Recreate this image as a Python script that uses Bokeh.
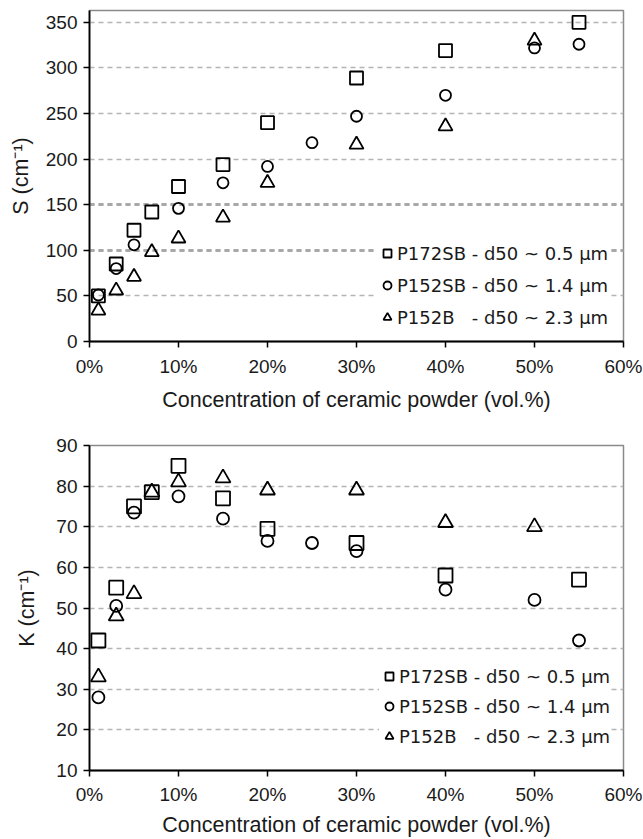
from bokeh.plotting import figure
from bokeh.layouts import column
from bokeh.models import (ColumnDataSource, Legend, LegendItem, SingleIntervalTicker,
                          PrintfTickFormatter, Grid, FixedTicker, Range1d)
from bokeh.embed import file_html
from bokeh.resources import INLINE

# ---------------- data ----------------
series_names = ["P172SB - d50 ~ 0.5 µm", "P152SB - d50 ~ 1.4 µm", "P152B   - d50 ~ 2.3 µm"]

s_x_p172sb = [1, 3, 5, 7, 10, 15, 20, 30, 40, 55]
s_y_p172sb = [50, 85, 122, 142, 170, 194, 240, 289, 319, 350]
s_x_p152sb = [1, 3, 5, 10, 15, 20, 25, 30, 40, 50, 55]
s_y_p152sb = [51, 80, 106, 146, 174, 192, 218, 247, 270, 322, 326]
s_x_p152b = [1, 3, 5, 7, 10, 15, 20, 30, 40, 50]
s_y_p152b = [34, 56, 71, 98, 113, 136, 174, 216, 236, 330]

k_x_p172sb = [1, 3, 5, 7, 10, 15, 20, 30, 40, 55]
k_y_p172sb = [42, 55, 75, 78.5, 85, 77, 69.5, 66, 58, 57]
k_x_p152sb = [1, 3, 5, 10, 15, 20, 25, 30, 40, 50, 55]
k_y_p152sb = [28, 50.5, 73.5, 77.5, 72, 66.5, 66, 64, 54.5, 52, 42]
k_x_p152b = [1, 3, 5, 7, 10, 15, 20, 30, 40, 50]
k_y_p152b = [33, 48, 53.5, 78.5, 81, 82, 79, 79, 71, 70]

x_label = "Concentration of ceramic powder (vol.%)"
s_label = "S (cm⁻¹)"
k_label = "K (cm⁻¹)"

FONT = "Liberation Sans"
LEGEND_FONT = "DejaVu Sans"


def make_panel(series, y_range, y_interval, y_label, height, mb_left, mb_right, mb_top,
               mb_bottom, tick_standoff, label_standoff, ylabel_standoff, sizes,
               legend_loc, legend_spacing, thick_ticks=None):
    p = figure(width=643, height=height, x_range=Range1d(0, 60), y_range=Range1d(*y_range),
               output_backend="svg", toolbar_location=None,
               min_border_left=mb_left, min_border_right=mb_right,
               min_border_top=mb_top, min_border_bottom=mb_bottom)
    p.background_fill_color = "white"
    p.border_fill_color = "white"
    p.outline_line_color = "#8a8a8a"
    p.outline_line_width = 1.5

    p.xgrid.visible = False
    p.ygrid.grid_line_color = "#b4b4b4"
    p.ygrid.grid_line_width = 1.5
    p.ygrid.grid_line_dash = "5 4"
    if thick_ticks:
        g = Grid(dimension=1, ticker=FixedTicker(ticks=thick_ticks),
                 grid_line_color="#a8a8a8", grid_line_width=3, grid_line_dash="5 4")
        p.add_layout(g)

    p.xaxis.ticker = SingleIntervalTicker(interval=10, num_minor_ticks=0)
    p.xaxis.formatter = PrintfTickFormatter(format="%d%%")
    p.yaxis.ticker = SingleIntervalTicker(interval=y_interval, num_minor_ticks=0)

    for ax in (p.xaxis, p.yaxis):
        ax.axis_line_color = "black"
        ax.axis_line_width = 1.8
        ax.major_tick_line_color = "black"
        ax.major_tick_line_width = 1.5
        ax.major_tick_out = 6
        ax.major_tick_in = 0
        ax.minor_tick_line_color = None
        ax.major_label_text_font = FONT
        ax.major_label_text_font_size = "19px"
        ax.major_label_text_color = "#1a1a1a"
        ax.axis_label_text_font = FONT
        ax.axis_label_text_font_size = "21.5px"
        ax.axis_label_text_font_style = "normal"
        ax.axis_label_text_color = "#1a1a1a"
    p.xaxis.major_label_standoff = tick_standoff
    p.xaxis.axis_label_standoff = label_standoff
    p.yaxis.major_label_standoff = 6
    p.yaxis.axis_label_standoff = ylabel_standoff
    p.xaxis.axis_label = x_label
    p.yaxis.axis_label = y_label

    markers = ["square", "circle", "triangle"]
    items = []
    for (xs, ys), name, mk, sz in zip(series, series_names, markers, sizes):
        src = ColumnDataSource(dict(x=xs, y=ys))
        r = p.scatter("x", "y", source=src, marker=mk, size=sz,
                      fill_color=None, line_color="black", line_width=1.8)
        items.append(LegendItem(label=name, renderers=[r]))

    leg = Legend(items=items, location=legend_loc, background_fill_color="white",
                 background_fill_alpha=1.0, border_line_color=None,
                 label_text_font=LEGEND_FONT, label_text_font_size="18px",
                 label_text_color="#1a1a1a", glyph_width=20, glyph_height=22,
                 label_height=22, label_standoff=0, spacing=legend_spacing, padding=5,
                 margin=0)
    p.add_layout(leg)
    return p


top = make_panel(
    [(s_x_p172sb, s_y_p172sb), (s_x_p152sb, s_y_p152sb), (s_x_p152b, s_y_p152b)],
    (0, 363), 50, s_label, height=415, mb_left=89, mb_right=20, mb_top=10, mb_bottom=74,
    tick_standoff=8, label_standoff=8, ylabel_standoff=10, sizes=[13, 11, 14],
    legend_loc=(288, 13), legend_spacing=10, thick_ticks=[100, 150])

bottom = make_panel(
    [(k_x_p172sb, k_y_p172sb), (k_x_p152sb, k_y_p152sb), (k_x_p152b, k_y_p152b)],
    (10, 90), 10, k_label, height=424, mb_left=80, mb_right=13, mb_top=30, mb_bottom=69,
    tick_standoff=7, label_standoff=5, ylabel_standoff=14, sizes=[14, 12, 15],
    legend_loc=(290, 23), legend_spacing=8)

layout = column(top, bottom, spacing=0)

open("out.html", "w").write(file_html(layout, INLINE))
